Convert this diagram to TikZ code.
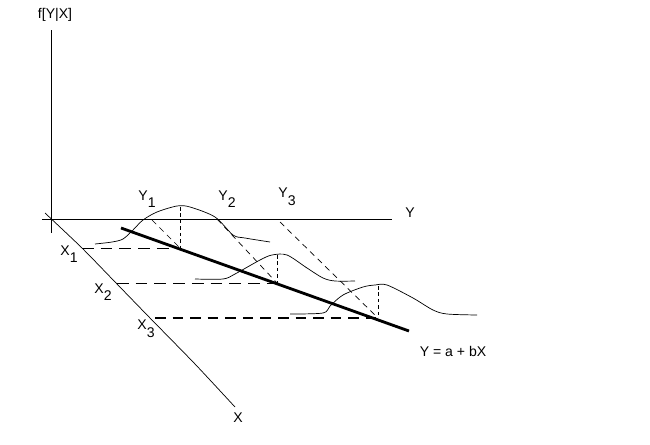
\documentclass[tikz,border=0pt]{standalone}
\usepackage{fontspec}
\setmainfont{Liberation Sans}
\newcommand{\lowidx}[1]{\raisebox{-6.5pt}{#1}}

\begin{document}
\begin{tikzpicture}[x=0.03cm,y=-0.03cm,line width=0.6pt,
  font=\fontsize{12}{14}\selectfont,
  guide/.style={dash pattern=on 10pt off 6pt},
  heavyguide/.style={line width=1.6pt,dash pattern=on 9pt off 6pt},
  drop/.style={dash pattern=on 3pt off 2.5pt},
  slant/.style={dash pattern=on 5pt off 4pt},
  density/.style={smooth,tension=0.5}]
\useasboundingbox (0,0) rectangle (650,444);
% axes
\draw (51,30) -- (51,233);
\draw (42,219) -- (392,219);
\draw plot[smooth,tension=0.4] coordinates {(45,213) (82,248) (117,284) (150,318) (195,364) (235,407)};
\draw (55,15) node {f[Y|X]};
\draw (410,213) node {Y};
\draw (238,418) node {X};
% points on the line
\coordinate (p1) at (180,248);
\coordinate (p2) at (277,283);
\coordinate (p3) at (378,318);
% regression line
\draw[line width=2.4pt] (121,228) -- (409,331);
\draw (453,351) node {Y = a + bX};
% levels of X
\draw[guide] (82,248) -- (p1);
\draw[guide] (117,283) -- (p2);
\draw[heavyguide] (155,318) -- (p3);
\draw (69,254) node {X\lowidx{1}};
\draw (103,292) node {X\lowidx{2}};
\draw (146,329) node {X\lowidx{3}};
% means projected from Y axis
\draw[slant] (152,220) -- (p1);
\draw[slant] (217,219) -- (p2);
\draw[slant] (280,222) -- (p3);
\draw (147,199) node {Y\lowidx{1}};
\draw (227,199) node {Y\lowidx{2}};
\draw (287,197) node {Y\lowidx{3}};
% conditional densities
\draw plot[density] coordinates {(95,244) (112,242) (123,239) (133,230) (143,220) (157,212) (177,206) (190,207) (215,217) (233,235) (245,238) (270,242)};
\draw plot[density] coordinates {(195,279) (223,279) (235,274) (260,260) (272,255) (287,255) (307,268) (323,278) (335,281) (355,281)};
\draw plot[density] coordinates {(290,314) (323,313) (330,306) (343,295) (363,287) (375,285) (387,285) (413,298) (433,310) (447,314) (477,315)};
\draw[drop] (180,207) -- (p1);
\draw[drop] (277,255) -- (p2);
\draw[drop] (378,286) -- (p3);
\end{tikzpicture}
\end{document}
